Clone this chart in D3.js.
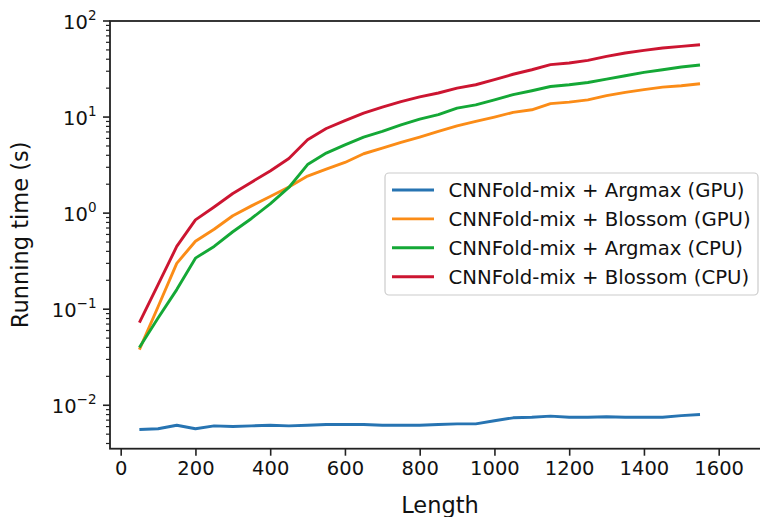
<!DOCTYPE html>
<meta charset="utf-8">
<style>
body { margin: 0; background: #fff; }
svg text { font-family: "DejaVu Sans", sans-serif; fill: #111; }
</style>
<svg id="chart" width="760" height="517"></svg>
<script src="https://d3js.org/d3.v7.min.js"></script>
<script>

// sequence lengths
var lengths = [50, 100, 150, 200, 250, 300, 350, 400, 450, 500, 550, 600, 650, 700, 750, 800,
               850, 900, 950, 1000, 1050, 1100, 1150, 1200, 1250, 1300, 1350, 1400, 1450, 1500, 1550];

// running time (s) per method
var argmaxGPU = [0.0056, 0.0057, 0.0062, 0.0057, 0.0061, 0.0060, 0.0061, 0.0062, 0.0061, 0.0062, 0.0063,
                 0.0063, 0.0063, 0.0062, 0.0062, 0.0062, 0.0063, 0.0064, 0.0064, 0.0069, 0.0074, 0.0075,
                 0.0077, 0.0075, 0.0075, 0.0076, 0.0075, 0.0075, 0.0075, 0.0078, 0.0080];
var blossomGPU = [0.038, 0.106, 0.30, 0.51, 0.68, 0.94, 1.19, 1.49, 1.87, 2.43, 2.87, 3.37, 4.15, 4.75,
                  5.44, 6.19, 7.08, 8.11, 9.0, 10.0, 11.2, 11.9, 13.8, 14.3, 15.1, 16.7, 18.1, 19.3,
                  20.5, 21.2, 22.2];
var argmaxCPU = [0.040, 0.081, 0.16, 0.34, 0.45, 0.64, 0.88, 1.25, 1.85, 3.2, 4.22, 5.14, 6.18, 7.08,
                 8.31, 9.53, 10.6, 12.4, 13.4, 15.1, 17.1, 18.8, 20.8, 21.7, 22.9, 24.8, 26.9, 29.2,
                 31.1, 33.2, 34.8];
var blossomCPU = [0.0725, 0.18, 0.45, 0.85, 1.16, 1.6, 2.1, 2.75, 3.7, 5.8, 7.6, 9.2, 11.0, 12.7, 14.5,
                  16.2, 17.8, 20.0, 21.7, 24.5, 27.9, 31.1, 35.1, 36.5, 38.9, 42.8, 46.4, 49.4, 52.3,
                  54.4, 56.6];

var seriesNames = ["CNNFold-mix + Argmax (GPU)", "CNNFold-mix + Blossom (GPU)",
                   "CNNFold-mix + Argmax (CPU)", "CNNFold-mix + Blossom (CPU)"];
var seriesColors = ["#2774b2", "#fb8c17", "#14a836", "#cc1531"];

var xTicks = [0, 200, 400, 600, 800, 1000, 1200, 1400, 1600];
var yTicks = [-2, -1, 0, 1, 2]; // exponents

var series = [argmaxGPU, blossomGPU, argmaxCPU, blossomCPU].map(function(vals, i) {
  return { name: seriesNames[i], color: seriesColors[i],
           points: vals.map(function(v, j) { return [lengths[j], v]; }) };
});

var svg = d3.select("#chart");

var plotL = 110, plotR = 770, plotT = 21, plotB = 448.7;

var x = d3.scaleLinear().domain([-28.6, 1737.3]).range([plotL, plotR]);
var y = d3.scaleLog().domain([0.00353, 100]).range([plotB, plotT]);

// lines
var line = d3.line()
    .x(function(d) { return x(d[0]); })
    .y(function(d) { return y(d[1]); });

svg.append("g")
  .selectAll("path")
  .data(series)
  .enter().append("path")
    .attr("d", function(d) { return line(d.points); })
    .attr("fill", "none")
    .attr("stroke", function(d) { return d.color; })
    .attr("stroke-width", 2.9)
    .attr("stroke-linejoin", "round");

// spines
svg.append("rect")
    .attr("x", plotL).attr("y", plotT)
    .attr("width", plotR - plotL).attr("height", plotB - plotT)
    .attr("fill", "none")
    .attr("stroke", "#222")
    .attr("stroke-width", 1.8);

// x axis
var xAxis = d3.axisBottom(x).tickValues(xTicks).tickSize(7).tickPadding(5)
    .tickFormat(d3.format("d"));
var gx = svg.append("g").attr("transform", "translate(0," + plotB + ")").call(xAxis);
gx.select(".domain").remove();
gx.selectAll(".tick line").attr("stroke", "#222").attr("stroke-width", 1.6);
gx.selectAll(".tick text").attr("font-size", 19.5).attr("fill", "#111")
    .attr("font-family", "DejaVu Sans");

// y axis: minor ticks
var minor = [];
[-3, -2, -1, 0, 1].forEach(function(e) {
  for (var k = 2; k <= 9; k++) {
    var v = k * Math.pow(10, e);
    if (v >= y.domain()[0] && v <= y.domain()[1]) minor.push(v);
  }
});
svg.append("g").selectAll("line").data(minor).enter().append("line")
    .attr("x1", plotL - 4).attr("x2", plotL)
    .attr("y1", function(d) { return y(d); }).attr("y2", function(d) { return y(d); })
    .attr("stroke", "#222").attr("stroke-width", 1.2);

var gy = svg.append("g").selectAll("g").data(yTicks).enter().append("g")
    .attr("transform", function(d) { return "translate(0," + y(Math.pow(10, d)) + ")"; });
gy.append("line").attr("x1", plotL - 7).attr("x2", plotL)
    .attr("stroke", "#222").attr("stroke-width", 1.6);
var lbl = gy.append("text").attr("x", plotL - 13.5).attr("y", 7.5)
    .attr("text-anchor", "end").attr("font-size", 19.5);
lbl.append("tspan").text("10");
lbl.append("tspan").attr("dy", -8.5).attr("font-size", 13.5)
    .text(function(d) { return d < 0 ? "\u2212" + (-d) : String(d); });

// axis titles
svg.append("text")
    .attr("x", (plotL + plotR) / 2).attr("y", 513)
    .attr("text-anchor", "middle").attr("font-size", 22.5)
    .text("Length");
svg.append("text")
    .attr("transform", "translate(28," + (plotT + plotB) / 2 + ") rotate(-90)")
    .attr("text-anchor", "middle").attr("font-size", 22.5)
    .text("Running time (s)");

// legend
var legend = svg.append("g");
legend.append("rect")
    .attr("x", 385).attr("y", 173).attr("width", 373).attr("height", 122)
    .attr("rx", 4).attr("fill", "#fff").attr("fill-opacity", 0.8)
    .attr("stroke", "#ccc").attr("stroke-width", 1.2);
var items = legend.selectAll("g.item").data(series).enter().append("g")
    .attr("transform", function(d, i) { return "translate(0," + (190 + i * 28.9) + ")"; });
items.append("line").attr("x1", 392).attr("x2", 434)
    .attr("stroke", function(d) { return d.color; }).attr("stroke-width", 2.9);
items.append("text").attr("x", 448.5).attr("y", 0).attr("dy", "0.36em")
    .attr("font-size", 19.7)
    .text(function(d) { return d.name; });

</script>
